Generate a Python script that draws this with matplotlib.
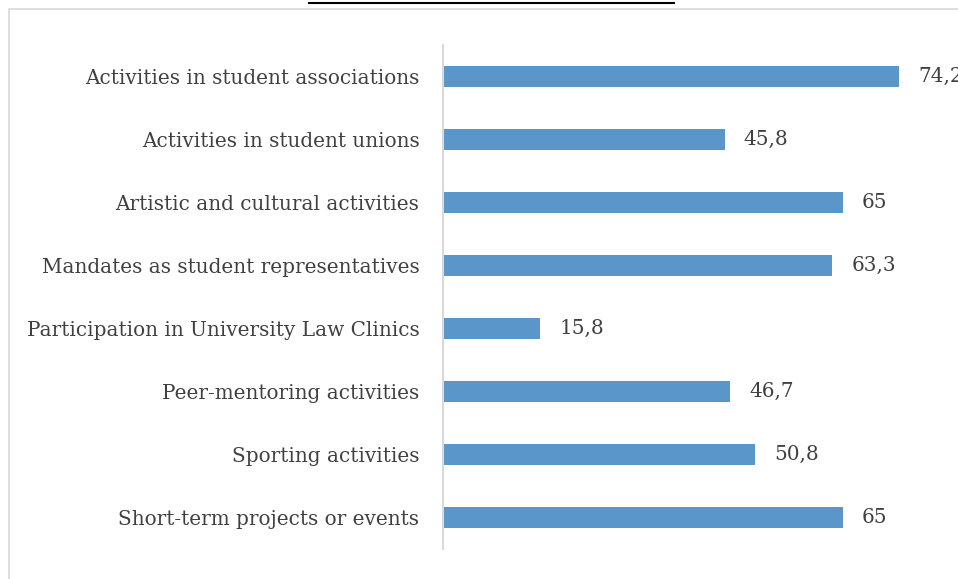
import matplotlib.pyplot as plt
from matplotlib.patches import Rectangle
from matplotlib.lines import Line2D

# Data
categories = [
    "Activities in student associations",
    "Activities in student unions",
    "Artistic and cultural activities",
    "Mandates as student representatives",
    "Participation in University Law Clinics",
    "Peer-mentoring activities",
    "Sporting activities",
    "Short-term projects or events",
]
values = [74.2, 45.8, 65, 63.3, 15.8, 46.7, 50.8, 65]

W, H = 958, 579
BAR_COLOR = "#5B96CB"
TEXT_COLOR = "#404040"
GRID_COLOR = "#D9D9D9"

plt.rcParams['font.family'] = ['DejaVu Serif']

fig = plt.figure(figsize=(W / 100, H / 100), dpi=100)

# chart frame (cut off on right and bottom)
fig.patches.append(Rectangle((9 / W, -0.1), 1.0, (H - 9) / H + 0.1,
                             transform=fig.transFigure, fill=False,
                             edgecolor=GRID_COLOR, lw=1.2))
# remnant underline of a caption above the chart
fig.lines.append(Line2D([309 / W, 674 / W], [1 - 2.5 / H, 1 - 2.5 / H],
                        transform=fig.transFigure, color="black", lw=1.5))

ax = fig.add_axes([443 / W, 30 / H, 492 / W, 504 / H])
y = list(range(len(categories)))
ax.barh(y, values, height=0.33, color=BAR_COLOR)
ax.set_ylim(len(categories) - 0.5, -0.5)
ax.set_xlim(0, 80)

ax.set_yticks(y)
ax.set_yticklabels(categories, fontsize=14.4, color=TEXT_COLOR)
ax.tick_params(axis="y", length=0, pad=17)
ax.set_xticks([])

for s in ["top", "right", "bottom"]:
    ax.spines[s].set_visible(False)
ax.spines["left"].set_color(GRID_COLOR)
ax.spines["left"].set_linewidth(1.5)

for yi, v in zip(y, values):
    ax.annotate(f"{v:g}".replace(".", ","), (v, yi), xytext=(19, 0),
                textcoords="offset pixels", va="center", ha="left",
                fontsize=14.4, color=TEXT_COLOR, annotation_clip=False)

fig.savefig("out.png", dpi=100)
